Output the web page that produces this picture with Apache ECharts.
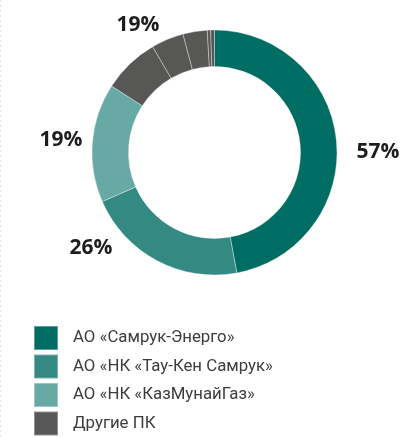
<!DOCTYPE html>
<html>
<head>
<meta charset="utf-8">
<script src="https://cdn.jsdelivr.net/npm/echarts@6/dist/echarts.min.js"></script>
<style>
  html, body { margin: 0; padding: 0; background: #fff; }
  #main { width: 413px; height: 437px; }
</style>
</head>
<body>
<div id="main"></div>
<script>
// названия (легенда)
var names = ['АО «Самрук-Энерго»', 'АО «НК «Тау-Кен Самрук»', 'АО «НК «КазМунайГаз»', 'Другие ПК'];
// доли сегментов (в градусах, как на картинке), серые — несколько мелких кусочков
var mainValues = [169.5, 76.9, 56.5];
var otherValues = [26.8, 15.4, 11.5, 1.6, 1.8];
// подписи
var labelTexts = ['57%', '26%', '19%', '19%'];
var colors = ['#006d64', '#348a83', '#67a9a4', '#575756'];

// где стоят подписи (центр текста)
var labelPos = [[378, 152], [91, 248], [61, 140], [138, 25]];

var data = [];
mainValues.forEach(function (v, i) {
    data.push({ name: names[i], value: v, itemStyle: { color: colors[i] }, label: { show: true, formatter: labelTexts[i] } });
});
otherValues.forEach(function (v, i) {
    data.push({
        name: i === 0 ? names[3] : names[3] + ' ' + (i + 1),
        value: v,
        itemStyle: { color: colors[3] },
        label: { show: i === 0, formatter: labelTexts[3] }
    });
});

var myChart = echarts.init(document.getElementById('main'));
myChart.setOption({
    animation: false,
    legend: {
        data: names,
        orient: 'vertical',
        left: 28,
        top: 320,
        height: 130,
        padding: 5,
        itemWidth: 24,
        itemHeight: 24,
        itemGap: 2.5,
        icon: 'rect',
        selectedMode: false,
        textStyle: { fontFamily: 'Roboto', fontSize: 16.8, color: '#3c3c3b', padding: [0, 0, 0, 10] }
    },
    graphic: [{
        type: 'line',
        shape: { x1: 0.5, y1: 0, x2: 0.5, y2: 437 },
        style: { stroke: '#e3e3e3', lineWidth: 1, lineDash: [2, 3] }
    }],
    series: [{
        type: 'pie',
        center: [214.5, 152.5],
        radius: [86, 122.5],
        startAngle: 90,
        clockwise: true,
        silent: true,
        avoidLabelOverlap: false,
        itemStyle: { borderColor: 'rgba(255,255,255,0.35)', borderWidth: 1 },
        label: {
            position: 'outside',
            fontFamily: 'Open Sans',
            fontWeight: 'bold',
            fontSize: 21,
            color: '#1d1d1b'
        },
        labelLine: { show: false },
        labelLayout: function (p) {
            var idx = p.dataIndex < 3 ? p.dataIndex : 3;
            return { x: labelPos[idx][0], y: labelPos[idx][1], align: 'center', verticalAlign: 'middle' };
        },
        data: data
    }]
});
</script>
</body>
</html>
